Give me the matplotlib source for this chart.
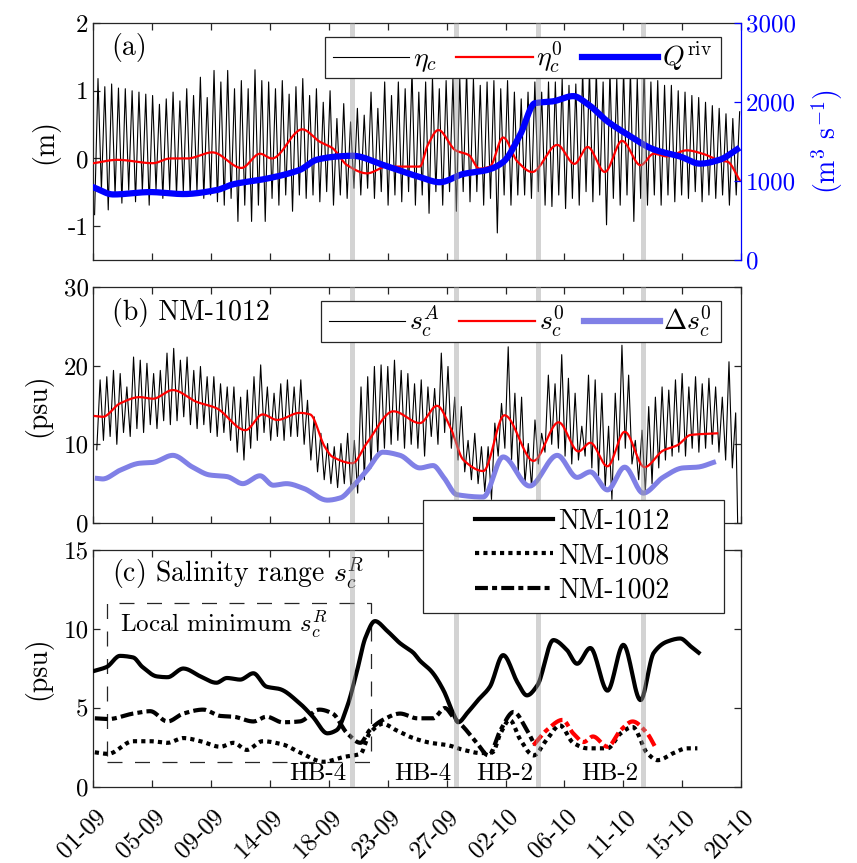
import numpy as np
import matplotlib
matplotlib.use('Agg')
import matplotlib.pyplot as plt
from matplotlib.lines import Line2D
from matplotlib.patches import Rectangle
from matplotlib.transforms import ScaledTranslation

plt.rcParams['font.family'] = 'serif'
plt.rcParams['font.serif'] = ['cmr10']
plt.rcParams['mathtext.fontset'] = 'cm'
plt.rcParams['axes.unicode_minus'] = False
plt.rcParams['axes.formatter.use_mathtext'] = False
plt.rcParams['font.size'] = 18

# ---------------- data ----------------
# x axis: days since 01-09
tick_days = list(np.linspace(0, 49, 12))
tick_labels = ['01-09', '05-09', '09-09', '14-09', '18-09', '23-09',
               '27-09', '02-10', '06-10', '11-10', '15-10', '20-10']
event_days = [19.57, 27.5, 33.65, 41.6]
hb_labels = ['HB-4', 'HB-4', 'HB-2', 'HB-2']

# (a) water level: tidal high- and low-water values (m)
eta_high = [1.18, 1.06, 1.1, 1.04, 1.03, 1.0, 0.98, 0.95, 0.93, 0.8, 0.88, 0.98, 0.85,
            1.03, 0.93, 1.2, 0.9, 1.3, 1.13, 1.3, 1.03, 1.15, 1.03, 1.31, 1.15, 1.13,
            1.03, 1.15, 0.95, 1.06, 1.18,
            0.93, 1.03, 0.83, 1.0, 0.59, 0.81, 0.54, 0.74, 0.64, 0.98, 0.74, 1.13, 0.93,
            1.13, 1.03, 1.3, 0.98, 1.13, 1.2, 1.03, 1.15, 1.18, 1.18, 1.3, 1.18, 1.08,
            1.13, 1.15, 1.03, 1.15, 0.98,
            0.88, 0.98, 1.13, 0.98, 1.13, 1.13, 1.18, 1.08, 1.1, 1.3, 1.3, 1.3, 1.13, 1.3,
            1.18, 1.3, 1.3, 1.18, 1.3, 1.13, 1.15, 1.08, 1.08, 1.0, 0.98, 0.93, 0.9, 0.83,
            0.78, 0.74, 0.66, 0.59, 0.69]
eta_low = [-0.83, -0.47, -0.76, -0.54, -0.66, -0.47, -0.64, -0.49, -0.69, -0.47, -0.59,
           -0.47, -0.54, -0.49, -0.54, -0.49, -0.59, -0.54, -0.64, -0.69, -0.59, -0.93,
           -0.69, -0.93, -0.69, -0.93, -0.59, -0.69, -0.54, -0.78, -0.54, -0.59,
           -0.54, -0.64, -0.49, -0.69, -0.54, -0.59, -0.44, -0.54, -0.44, -0.59, -0.49,
           -0.69, -0.54, -0.64, -0.49, -0.69, -0.54, -0.81, -0.49, -0.69, -0.49, -0.78,
           -0.49, -0.64, -0.49, -0.69, -0.59, -1.1, -0.54, -0.69, -0.54,
           -0.54, -0.59, -0.49, -0.69, -0.71, -0.54, -0.74, -0.59, -0.69, -0.49, -0.64,
           -0.54, -0.98, -0.59, -0.69, -0.54, -0.93, -0.59, -0.69, -0.54, -0.69, -0.54,
           -0.64, -0.54, -0.59, -0.49, -0.64, -0.54, -0.59, -0.54, -0.69, -0.54]
eta_first_last = [0.34, 48.9]   # day of first and last high water

eta0_day = [0.0, 1.8, 4.5, 5.8, 7.1, 9.0, 11.2, 12.6, 13.5, 15.8, 17.1, 18.1, 19.2, 20.7,
            22.2, 24.0, 24.7, 25.3, 26.1, 27.4, 28.4, 29.2, 30.0, 31.0, 32.1, 33.2, 35.1,
            36.4, 37.4, 38.7, 40.0, 41.4, 42.4, 43.4, 44.9, 46.1, 47.4, 48.0, 48.9]
eta0_val = [-0.07, -0.02, -0.07, 0.0, 0.0, 0.09, -0.14, 0.07, 0.0, 0.43, 0.25, 0.15, -0.1,
            -0.22, -0.12, -0.12, -0.12, 0.2, 0.42, 0.12, 0.05, -0.15, -0.12, 0.31, -0.05,
            -0.2, 0.2, -0.08, 0.17, -0.2, 0.26, -0.1, 0.07, 0.03, 0.12, 0.07, -0.03, -0.05,
            -0.32]

q_day = [0.0, 1.5, 4.3, 6.8, 9.3, 10.6, 13.1, 15.6, 16.9, 18.4, 19.6, 21.9, 24.7, 26.2,
         28.0, 29.8, 31.0, 32.3, 33.4, 34.8, 36.3, 37.4, 38.9, 40.4, 42.4, 44.4, 45.9,
         47.4, 48.7]
q_val = [920, 830, 860, 835, 885, 960, 1030, 1140, 1270, 1310, 1320, 1205, 1050, 985,
         1090, 1140, 1240, 1590, 1985, 2010, 2075, 1975, 1755, 1590, 1400, 1310, 1220,
         1270, 1400]

# (b) salinity NM-1012: tidal highs and lows (psu)
sA_high = [18.2, 18.6, 19.4, 19.0, 17.3, 21.1, 20.7, 20.3, 19.0, 19.4,
           21.6, 22.2, 20.7, 21.1, 19.4, 19.9, 18.6, 18.6, 17.7, 17.3,
           17.3, 16.0, 16.9, 18.6, 20.1, 17.3, 16.5, 17.7, 18.2, 17.3,
           18.2, 15.6, 13.5, 11.4, 10.1, 9.7, 10.1, 11.4, 10.5, 17.3,
           18.6, 19.9, 20.1, 19.9, 20.7, 19.4, 19.0, 17.7, 18.2, 17.3,
           17.1, 21.6, 19.9, 16.0, 14.8, 10.5, 11.4, 9.7, 9.7, 12.7,
           15.2, 22.4, 16.5, 16.0, 10.1, 13.1, 11.4, 18.8, 17.7, 21.4,
           18.4, 16.5, 12.3, 18.8, 18.2, 16.5, 12.3, 16.5, 22.6, 18.8,
           10.5, 11.8, 14.8, 16.0, 17.3, 16.9, 18.2, 19.0, 17.3, 18.6,
           17.7, 18.4, 17.3, 16.0, 20.5, 14.0]
sA_low = [9.3, 10.5, 11.0, 10.0, 11.5, 11.0,
          12.0, 11.5, 12.5, 12.0, 13.0, 12.5,
          13.0, 13.5, 12.5, 12.0, 12.5, 11.5,
          11.0, 11.5, 10.5, 9.0, 8.0, 9.5,
          10.5, 11.5, 10.5, 11.0, 10.5, 11.0,
          11.0, 10.0, 8.0, 6.5, 5.5, 5.0,
          4.5, 5.0, 4.2, 3.8, 5.5, 7.0,
          8.5, 9.5, 10.0, 10.5, 9.5, 10.0, 9.5, 8.5,
          11.0, 10.0, 11.5, 9.5,
          8.0, 6.5, 5.5,
          5.0, 4.0, 3.0,
          8.5, 9.5, 8.0,
          6.5, 5.0, 4.5,
          7.5, 9.0, 10.0,
          9.5, 8.5, 7.5, 8.0,
          8.5, 7.0, 6.0, 4.5,
          3.0, 8.0, 9.5, 7.5,
          5.5, 4.0, 5.0, 7.0,
          8.0, 8.5, 9.0, 8.5,
          9.5, 9.0, 9.5, 10.0,
          9.0, 8.0, 7.0]
sA_first_last = [0.5, 48.6]
sA_end = [48.75, 0.0]

s0_day = [0.1, 0.7, 2.0, 3.5, 4.5, 6.0, 7.8, 9.3, 11.5, 12.8, 13.9, 15.6, 16.4, 17.5,
          18.1, 19.6, 20.7, 22.7, 24.7, 26.0, 27.0, 28.0, 29.5, 31.1, 33.3, 35.2, 36.7,
          37.6, 38.9, 40.2, 41.7, 43.1, 44.2, 45.2, 47.2]
s0_val = [13.6, 13.5, 15.2, 16.0, 15.8, 16.9, 15.4, 14.6, 11.8, 13.8, 13.1, 14.0, 13.8,
          9.7, 8.4, 7.6, 10.2, 14.2, 12.7, 14.9, 12.2, 8.0, 6.6, 13.7, 7.9, 12.8, 9.1,
          10.2, 7.2, 11.6, 7.1, 9.2, 9.9, 11.2, 11.4]

ds0_day = [0.1, 0.7, 2.0, 3.5, 4.5, 6.0, 7.5, 8.8, 10.1, 11.3, 12.6, 13.6, 14.6, 15.9,
           17.7, 18.7, 19.6, 20.7, 21.9, 23.2, 24.7, 25.7, 26.5, 27.5, 29.5, 31.0, 33.0,
           35.1, 36.6, 37.6, 38.9, 40.2, 41.6, 43.1, 44.6, 45.7, 47.1]
ds0_val = [5.7, 5.6, 6.7, 7.6, 7.7, 8.6, 7.1, 6.1, 5.9, 5.0, 6.0, 4.8, 5.0, 4.4, 2.9,
           3.2, 4.6, 6.7, 9.0, 8.6, 7.0, 7.3, 5.8, 3.6, 3.3, 8.4, 4.7, 8.6, 5.8, 6.5, 4.2,
           7.1, 3.8, 5.8, 7.0, 7.1, 7.8]

# (c) salinity range
r1012_day = [0.1, 1.0, 2.0, 3.0, 3.7, 4.8, 5.6, 6.8, 8.1, 9.3, 10.1, 11.1, 12.1, 13.1,
             14.1, 15.6, 16.6, 17.7, 18.4, 19.2, 19.9, 20.6, 21.3, 22.2, 23.2, 24.2,
             24.7, 25.6, 26.5, 27.2, 27.6, 28.3, 29.1, 30.0, 31.0, 32.1, 32.8, 33.6,
             34.8, 35.8, 36.6, 37.6, 38.9, 40.1, 41.4, 42.4, 43.4, 44.4, 45.2, 45.8]
r1012_val = [7.36, 7.6, 8.3, 8.2, 7.6, 7.0, 6.95, 7.5, 7.0, 6.6, 6.9, 6.8, 7.2, 6.35,
             6.2, 5.3, 4.45, 3.4, 3.6, 5.1, 7.2, 9.5, 10.5, 9.9, 9.1, 8.5, 8.0, 7.3, 6.1,
             4.7, 4.1, 4.7, 5.5, 6.35, 8.35, 6.6, 5.8, 6.45, 9.3, 8.7, 7.8, 8.8, 6.1, 9.0,
             5.5, 8.5, 9.2, 9.4, 8.9, 8.5]

r1008_day = [0.1, 1.1, 3.0, 4.3, 5.6, 6.8, 8.1, 9.6, 10.6, 11.6, 12.8, 14.3, 15.6, 17.4,
             18.9, 20.2, 20.9, 21.9, 22.9, 24.2, 25.5, 26.8, 28.0, 29.3, 30.2, 30.8,
             31.5, 32.3, 33.3, 34.3, 35.3, 36.3, 37.4, 38.9, 39.9, 40.8, 41.9, 42.7,
             43.9, 44.9, 45.7]
r1008_val = [2.2, 2.1, 2.9, 2.9, 2.8, 3.1, 2.9, 2.55, 2.8, 2.35, 2.9, 2.7, 2.2, 1.6, 1.9,
             2.1, 3.4, 4.0, 3.6, 3.1, 2.8, 2.65, 2.35, 2.15, 2.2, 3.4, 4.25, 3.0, 2.0, 3.0,
             3.9, 2.8, 2.45, 2.45, 3.4, 3.8, 2.15, 1.7, 2.15, 2.45, 2.45]

r1002_day = [0.1, 1.1, 3.0, 4.3, 5.6, 6.8, 8.3, 9.6, 10.6, 12.1, 13.1, 14.3, 15.6, 17.1,
             18.1, 19.2, 20.2, 20.9, 21.9, 23.2, 24.5, 25.7, 26.6, 27.2, 28.0, 29.0, 29.9,
             30.8, 31.8, 32.8, 33.4]
r1002_val = [4.35, 4.3, 4.65, 4.8, 4.15, 4.65, 4.9, 4.5, 4.45, 4.15, 4.45, 4.1, 4.15, 4.9,
             4.65, 3.4, 2.8, 3.6, 4.25, 4.65, 4.35, 4.35, 5.0, 4.45, 3.8, 2.8, 2.0, 3.6,
             4.75, 3.6, 2.65]
r1002b_day = [33.3, 34.3, 35.5, 36.3, 37.1, 37.8, 38.9, 39.9, 40.8, 41.9, 42.5]
r1002b_val = [2.65, 3.6, 4.25, 3.4, 2.85, 3.2, 2.55, 3.6, 4.15, 3.4, 2.55]

localmin_box = [1.0, 21.0, 1.6, 11.65]   # x0, x1, y0, y1

# ---------------- helpers ----------------
def smooth(xd, yd, n=600):
    xd = np.asarray(xd, float)
    yd = np.asarray(yd, float)
    xs = np.linspace(xd[0], xd[-1], n)
    m = np.zeros_like(yd)
    d = np.diff(yd) / np.diff(xd)
    m[1:-1] = np.where(d[:-1] * d[1:] > 0, 2 / (1 / d[:-1] + 1 / d[1:]), 0)
    m[0] = d[0]
    m[-1] = d[-1]
    idx = np.clip(np.searchsorted(xd, xs) - 1, 0, len(xd) - 2)
    h = xd[idx + 1] - xd[idx]
    t = (xs - xd[idx]) / h
    h00 = 2 * t**3 - 3 * t**2 + 1
    h10 = t**3 - 2 * t**2 + t
    h01 = -2 * t**3 + 3 * t**2
    h11 = t**3 - t**2
    ys = h00 * yd[idx] + h10 * h * m[idx] + h01 * yd[idx + 1] + h11 * h * m[idx + 1]
    return xs, ys

def tidal(highs, lows, first_last):
    nh = len(highs)
    th = np.linspace(first_last[0], first_last[1], nh)
    per = (first_last[1] - first_last[0]) / (nh - 1)
    tl = th[0] - 0.5 * per + per * np.arange(len(lows))
    t = np.concatenate([th, tl])
    v = np.concatenate([np.asarray(highs, float), np.asarray(lows, float)])
    o = np.argsort(t)
    return t[o], v[o]

AX = '#262626'
BAR = (0.62, 0.62, 0.62)
PURPLE = (0.5, 0.5, 0.9)
fig = plt.figure(figsize=(8.57, 8.63), dpi=100)
L, W = 0.1091, 0.7555
ax_a = fig.add_axes([L, 0.6987, W, 0.2746])
ax_b = fig.add_axes([L, 0.3940, W, 0.2734])
ax_c = fig.add_axes([L, 0.0880, W, 0.2747])

def style(ax, right=True):
    for s in ax.spines.values():
        s.set_color(AX)
        s.set_linewidth(0.9)
    ax.tick_params(direction='in', length=5, width=0.9, colors=AX, labelcolor='black',
                   top=True, right=right, labelsize=18)
    ax.set_xlim(0, 49)
    ax.set_xticks(tick_days)

def bars(ax):
    for d in event_days:
        ax.axvspan(d - 0.19, d + 0.19, color=BAR, alpha=0.45, lw=0, zorder=4)

def fig_box(x0, y0, x1, y1, z):
    r = Rectangle((x0 / 857, 1 - y1 / 863), (x1 - x0) / 857, (y1 - y0) / 863,
                  transform=fig.transFigure, fc='white', ec=AX, lw=0.9, zorder=z)
    fig.patches.append(r)

leg_kw = dict(frameon=False, borderaxespad=0, borderpad=0, handlelength=2.75,
              handletextpad=0.12, columnspacing=0.7, fontsize=20)

# ---- (a)
style(ax_a, right=False)
ax_a.spines['right'].set_visible(False)
t_eta, v_eta = tidal(eta_high, eta_low, eta_first_last)
ax_a.plot(t_eta, v_eta, color='black', lw=0.8, zorder=2)
xs, ys = smooth(eta0_day, eta0_val)
ax_a.plot(xs, ys, color='red', lw=1.6, zorder=3)
ax_a.set_ylim(-1.5, 2)
ax_a.set_yticks([-1, 0, 1, 2])
ax_a.set_xticklabels([])
ax_a.set_ylabel('(m)', labelpad=6, fontsize=20)
ax_a.text(0.028, 0.895, '(a)', transform=ax_a.transAxes, va='center', ha='left',
          fontsize=20)

ax_r = ax_a.twinx()
ax_r.set_xlim(0, 49)
for k in ['left', 'top', 'bottom']:
    ax_r.spines[k].set_visible(False)
ax_r.spines['right'].set_color('blue')
ax_r.spines['right'].set_linewidth(0.9)
xs, ys = smooth(q_day, q_val)
ax_r.plot(xs, ys, color='blue', lw=4.5, zorder=3)
ax_r.set_ylim(0, 3000)
ax_r.set_yticks([0, 1000, 2000, 3000])
ax_r.tick_params(direction='in', length=5, width=0.9, colors='blue', labelsize=18)
ax_r.set_ylabel('(m$^3$ s$^{-1}$)', color='blue', labelpad=10, fontsize=20)
bars(ax_r)
fig_box(325, 37, 721, 78, 18)
h_a = [Line2D([], [], color='black', lw=0.8), Line2D([], [], color='red', lw=1.6),
       Line2D([], [], color='blue', lw=4.5)]
leg = fig.legend(h_a, [r'$\eta_c$', r'$\eta_c^0$', r'$Q^{\rm riv}$'], ncol=3,
                 loc='center left', bbox_to_anchor=(333 / 857, 1 - 57.5 / 863), **leg_kw)
leg.set_zorder(19)

# ---- (b)
style(ax_b)
t_s, v_s = tidal(sA_high, sA_low, sA_first_last)
t_s = np.append(t_s, sA_end[0])
v_s = np.append(v_s, sA_end[1])
ax_b.plot(t_s, v_s, color='black', lw=0.8, zorder=2)
xs, ys = smooth(s0_day, s0_val)
ax_b.plot(xs, ys, color='red', lw=1.6, zorder=3)
xs, ys = smooth(ds0_day, ds0_val)
ax_b.plot(xs, ys, color=PURPLE, lw=3.6, zorder=3, solid_capstyle='butt')
ax_b.set_ylim(0, 30)
ax_b.set_yticks([0, 10, 20, 30])
ax_b.set_xticklabels([])
ax_b.set_ylabel('(psu)', labelpad=8, fontsize=20)
ax_b.text(0.028, 0.894, '(b) NM-1012', transform=ax_b.transAxes, va='center', ha='left',
          fontsize=20)
bars(ax_b)
fig_box(321, 301, 721, 342, 18)
h_b = [Line2D([], [], color='black', lw=0.8), Line2D([], [], color='red', lw=1.6),
       Line2D([], [], color=PURPLE, lw=4.5)]
leg = fig.legend(h_b, [r'$s_c^A$', r'$s_c^0$', r'$\Delta s_c^0$'], ncol=3,
                 loc='center left', bbox_to_anchor=(329 / 857, 1 - 321.5 / 863), **leg_kw)
leg.set_zorder(19)

# ---- (c)
style(ax_c)
dot = (0, (1.0, 1.0))
dashdot = (0, (3.1, 1.0, 1.2, 1.0))
xs, ys = smooth(r1012_day, r1012_val)
ax_c.plot(xs, ys, color='black', lw=3.0, zorder=3)
xs, ys = smooth(r1008_day, r1008_val)
ax_c.plot(xs, ys, color='black', lw=3.0, ls=dot, zorder=3)
xs, ys = smooth(r1002_day, r1002_val)
ax_c.plot(xs, ys, color='black', lw=3.0, ls=dashdot, zorder=3)
xs, ys = smooth(r1002b_day, r1002b_val)
ax_c.plot(xs, ys, color='red', lw=3.0, ls=dashdot, zorder=3)
ax_c.set_ylim(0, 15)
ax_c.set_yticks([0, 5, 10, 15])
ax_c.set_ylabel('(psu)', labelpad=8, fontsize=20)
ax_c.set_xticklabels(tick_labels, rotation=45, ha='right', va='center',
                     rotation_mode='anchor')
ax_c.tick_params(axis='x', pad=10)
shift = ScaledTranslation(0.09, -0.12, fig.dpi_scale_trans)
for lab in ax_c.get_xticklabels():
    lab.set_transform(lab.get_transform() + shift)
ax_c.text(0.028, 0.90, r'(c) Salinity range $s_c^R$', transform=ax_c.transAxes,
          va='center', ha='left', fontsize=20)
x0, x1, y0, y1 = localmin_box
ax_c.add_patch(Rectangle((x0, y0), x1 - x0, y1 - y0, fill=False, ec=AX, lw=0.9,
                         ls=(0, (12, 10)), zorder=2))
ax_c.text(x0 + 1.0, 10.25, r'Local minimum $s_c^R$', va='center', ha='left')
for d, lab in zip(event_days, hb_labels):
    ax_c.text(d - 0.4, 0.85, lab, ha='right', va='center')
bars(ax_c)
fig_box(423, 500, 724, 613, 20)
h_c = [Line2D([], [], color='black', lw=3.0),
       Line2D([], [], color='black', lw=3.0, ls=dot),
       Line2D([], [], color='black', lw=3.0, ls=dashdot)]
leg = fig.legend(h_c, ['NM-1012', 'NM-1008', 'NM-1002'], loc='center left',
                 bbox_to_anchor=(475 / 857, 1 - 556 / 863), frameon=False,
                 borderaxespad=0, borderpad=0, handlelength=2.8, handletextpad=0.2,
                 labelspacing=0.3, fontsize=20)
leg.set_zorder(21)

fig.savefig('out.png', dpi=100)
